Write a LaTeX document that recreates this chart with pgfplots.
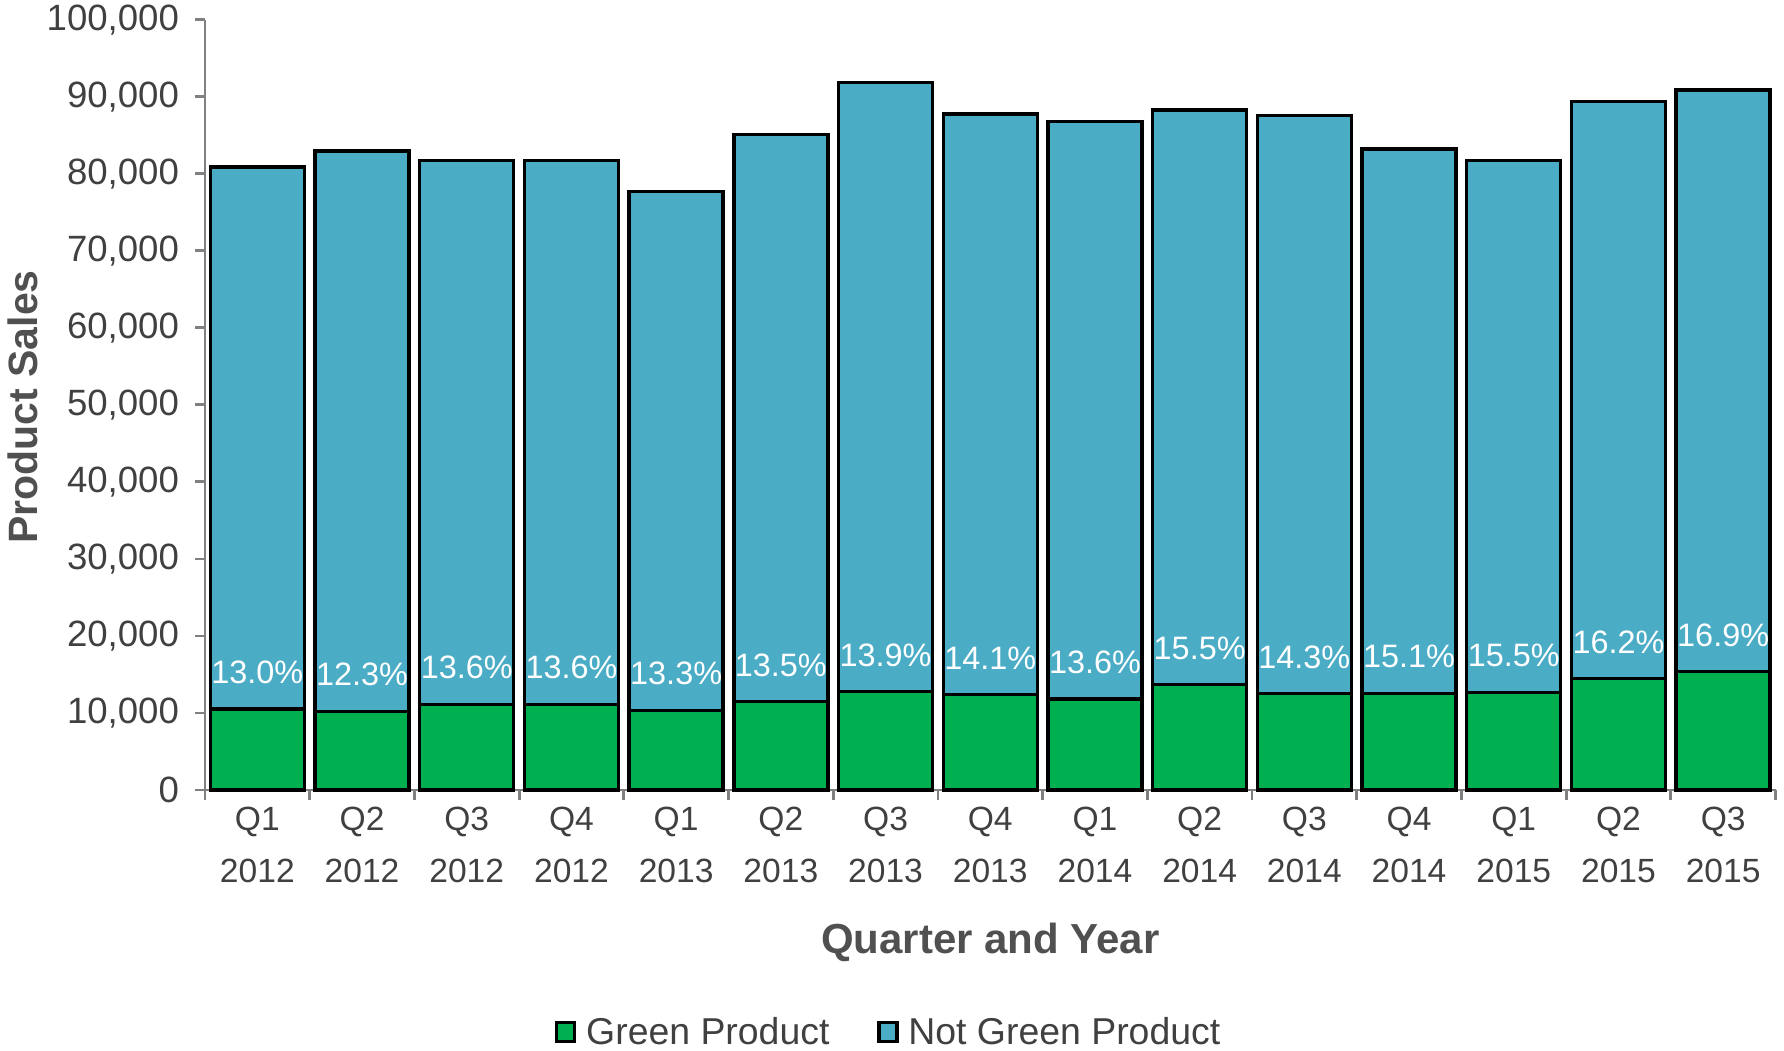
\documentclass[border=0pt]{standalone}
\usepackage{fontspec}
\setmainfont{Liberation Sans}
\usepackage{pgfplots}
\pgfplotsset{compat=1.18}
\definecolor{greenp}{HTML}{00B050}
\definecolor{bluep}{HTML}{4BACC6}
\definecolor{txt}{HTML}{404040}
\definecolor{lbl}{HTML}{505050}
\definecolor{axgray}{HTML}{808080}
\pgfplotsset{
  greenleg/.style={legend image code/.code={\draw[fill=greenp,draw=black,line width=1.6bp] (0.8bp,-4.6bp) rectangle (9.8bp,4.6bp); \path[draw=none,fill=none] (0bp,0bp) -- (13.5bp,0bp);}},
  blueleg/.style={legend image code/.code={\draw[fill=bluep,draw=black,line width=1.6bp] (0.8bp,-4.6bp) rectangle (9.8bp,4.6bp); \path[draw=none,fill=none] (0bp,0bp) -- (13.5bp,0bp);}},
}
\begin{document}
\begin{tikzpicture}
\path[use as bounding box] (-102.5bp,-130.5bp) rectangle (789.5bp,395bp);
\begin{axis}[
  at={(0,0)}, anchor=south west,
  scale only axis, width=785.25bp, height=385.15bp,
  xmin=-0.5, xmax=14.5, ymin=0, ymax=100000,
  axis lines*=left,
  axis line style={axgray, line width=1.4bp},
  tick style={axgray, line width=1.4bp},
  tick align=outside,
  major tick length=5bp,
  xtick={-0.5,0.5,...,14.5},
  x tick label as interval,
  xticklabels={{Q1\\2012},{Q2\\2012},{Q3\\2012},{Q4\\2012},{Q1\\2013},{Q2\\2013},{Q3\\2013},{Q4\\2013},{Q1\\2014},{Q2\\2014},{Q3\\2014},{Q4\\2014},{Q1\\2015},{Q2\\2015},{Q3\\2015}},
  xticklabel style={align=center, font=\fontsize{16.8bp}{26bp}\selectfont, text=txt},
  ytick={0,10000,...,100000},
  scaled y ticks=false,
  yticklabel style={font=\fontsize{18.3bp}{21bp}\selectfont, text=txt, xshift=-4.5bp, /pgf/number format/fixed, /pgf/number format/1000 sep={,}},
  /pgf/number format/assume math mode=true,
  xlabel={Quarter and Year},
  ylabel={Product Sales},
  xlabel style={at={(axis description cs:0.5,-0.1973)}, anchor=center, font=\fontsize{21bp}{24bp}\selectfont\bfseries, text=lbl},
  ylabel style={at={(axis description cs:-0.1159,0.4972)}, anchor=center, rotate=0, font=\fontsize{20.5bp}{24bp}\selectfont\bfseries, text=lbl},
  legend columns=2,
  legend style={draw=none, fill=none, at={(axis description cs:0.4360,-0.3142)}, anchor=center,
    font=\fontsize{18.7bp}{22bp}\selectfont, text=txt,
    /tikz/every even column/.style={column sep=22bp},
    cells={anchor=west}},
  clip=false,
]
% totals (Not Green Product bar reaches total height)
\addplot[ybar, bar width=47bp, bar shift=0pt, fill=bluep, draw=black, line width=1.7bp, forget plot] coordinates {
(0,80900) (1,82950) (2,81700) (3,81700) (4,77660) (5,85070) (6,91870) (7,87750)
(8,86750) (9,88270) (10,87580) (11,83210) (12,81740) (13,89350) (14,90870)};
% green product
\addplot[ybar, bar width=47bp, bar shift=0pt, fill=greenp, draw=black, line width=1.7bp, forget plot] coordinates {
(0,10517) (1,10203) (2,11111) (3,11111) (4,10329) (5,11484) (6,12770) (7,12373)
(8,11798) (9,13682) (10,12524) (11,12565) (12,12670) (13,14475) (14,15357)};
% share labels
\addplot[ybar, bar width=47bp, bar shift=0pt, draw=none, fill=none, forget plot,
  nodes near coords, point meta=explicit symbolic,
  nodes near coords style={anchor=center, yshift=18.3bp, text=white, font=\fontsize{16.2bp}{19bp}\selectfont}] coordinates {
(0,10517)[13.0\%] (1,10203)[12.3\%] (2,11111)[13.6\%] (3,11111)[13.6\%] (4,10329)[13.3\%]
(5,11484)[13.5\%] (6,12770)[13.9\%] (7,12373)[14.1\%] (8,11798)[13.6\%] (9,13682)[15.5\%]
(10,12524)[14.3\%] (11,12565)[15.1\%] (12,12670)[15.5\%] (13,14475)[16.2\%] (14,15357)[16.9\%]};
\addlegendimage{greenleg}
\addlegendentry{Green Product}
\addlegendimage{blueleg}
\addlegendentry{Not Green Product}
\end{axis}
\end{tikzpicture}
\end{document}
